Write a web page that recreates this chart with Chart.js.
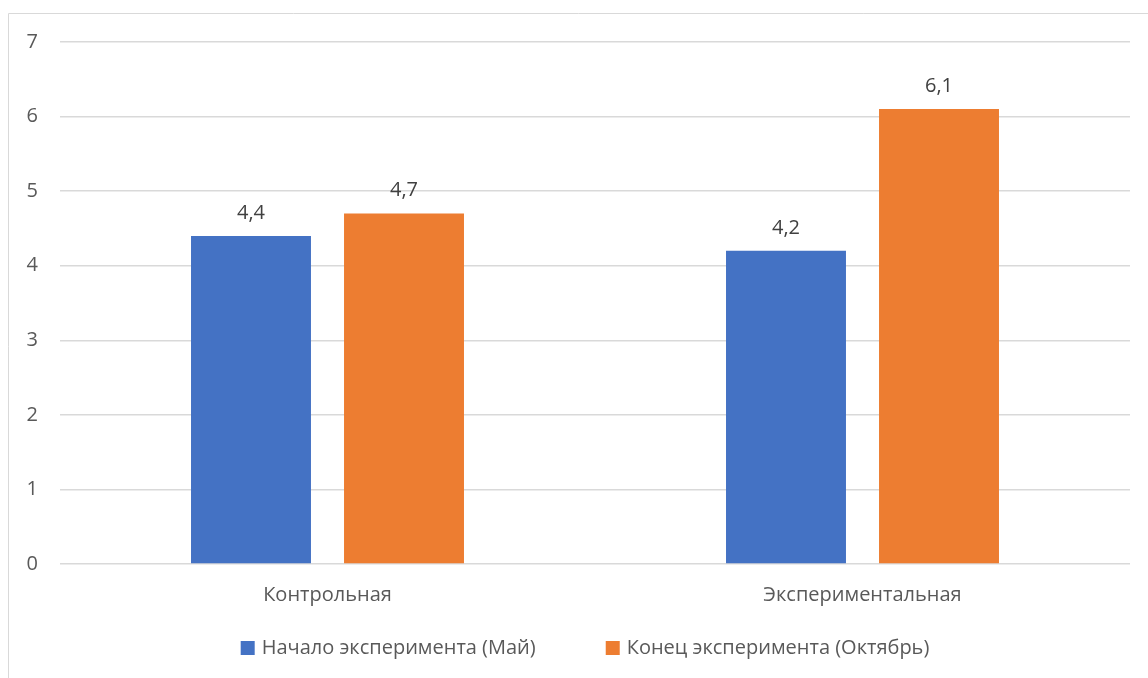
<!DOCTYPE html>
<html lang="ru">
  <head>
    <meta charset="UTF-8" />
    <title>Эксперимент</title>
    <script src="https://cdn.jsdelivr.net/npm/chart.js"></script>
    <style>
      html, body { margin: 0; padding: 0; background: #fff; }
      #wrap { width: 1148px; height: 678px; position: relative; }
    </style>
  </head>
  <body>
    <div id="wrap"><canvas id="chart"></canvas></div>
    <script>
      const groups = ["Контрольная", "Экспериментальная"];
      const seriesNames = ["Начало эксперимента (Май)", "Конец эксперимента (Октябрь)"];
      const startValues = [4.4, 4.2];
      const endValues = [4.7, 6.1];
      const yTicks = [0, 1, 2, 3, 4, 5, 6, 7];

      const FONT = "'Open Sans', 'Noto Sans', sans-serif";
      const TEXT = "#595959";
      const SIZE = 20;

      // frame around the whole chart, opened on the right and bottom
      const frame = {
        id: "frame",
        beforeDraw(c) {
          const ctx = c.ctx;
          ctx.save();
          ctx.strokeStyle = "#d9d9d9";
          ctx.lineWidth = 1;
          ctx.beginPath();
          ctx.moveTo(8.5, 700);
          ctx.lineTo(8.5, 13.5);
          ctx.lineTo(1160, 13.5);
          ctx.stroke();
          ctx.restore();
        },
      };

      // value above each bar, decimal comma
      const valueLabels = {
        id: "valueLabels",
        afterDatasetsDraw(c) {
          const ctx = c.ctx;
          ctx.save();
          ctx.fillStyle = "#404040";
          ctx.font = SIZE + "px " + FONT;
          ctx.textAlign = "center";
          ctx.textBaseline = "middle";
          c.data.datasets.forEach((ds, i) => {
            c.getDatasetMeta(i).data.forEach((bar, k) => {
              ctx.fillText(String(ds.data[k]).replace(".", ","), bar.x, bar.y - 23);
            });
          });
          ctx.restore();
        },
      };

      // legend row under the axis, centred on the canvas
      const bottomLegend = {
        id: "bottomLegend",
        afterDraw(c) {
          const ctx = c.ctx;
          const box = 14, gapText = 7, gapItem = 70, y = 648;
          ctx.save();
          ctx.font = SIZE + "px " + FONT;
          ctx.textBaseline = "middle";
          const widths = c.data.datasets.map((d) => box + gapText + ctx.measureText(d.label).width);
          const total = widths.reduce((a, b) => a + b, 0) + gapItem * (widths.length - 1);
          let x = (c.width - total) / 2 + 11;
          c.data.datasets.forEach((d, i) => {
            ctx.fillStyle = d.backgroundColor;
            ctx.fillRect(x, y - box / 2, box, box);
            ctx.fillStyle = TEXT;
            ctx.fillText(d.label, x + box + gapText, y);
            x += widths[i] + gapItem;
          });
          ctx.restore();
        },
      };

      new Chart(document.getElementById("chart"), {
        type: "bar",
        data: {
          labels: groups,
          datasets: [
            { label: seriesNames[0], data: startValues, backgroundColor: "#4472c4" },
            { label: seriesNames[1], data: endValues, backgroundColor: "#ed7d31" },
          ],
        },
        options: {
          responsive: true,
          maintainAspectRatio: false,
          animation: false,
          categoryPercentage: 0.572,
          barPercentage: 0.784,
          layout: { padding: { left: 8, right: 18, top: 42, bottom: 60 } },
          plugins: {
            tooltip: { enabled: false },
            legend: { display: false },
          },
          scales: {
            x: {
              grid: { display: false },
              border: { display: false },
              ticks: { color: TEXT, font: { family: FONT, size: SIZE }, padding: 11 },
            },
            y: {
              min: 0,
              max: 7,
              afterFit: (s) => { s.width = 52; },
              afterBuildTicks: (s) => { s.ticks = yTicks.map((v) => ({ value: v })); },
              grid: { color: "#d9d9d9", lineWidth: 1.5, drawTicks: false },
              border: { display: false },
              ticks: {
                color: TEXT,
                font: { family: FONT, size: SIZE },
                padding: 22,
                align: "center",
              },
            },
          },
        },
        plugins: [frame, valueLabels, bottomLegend],
      });
    </script>
  </body>
</html>
